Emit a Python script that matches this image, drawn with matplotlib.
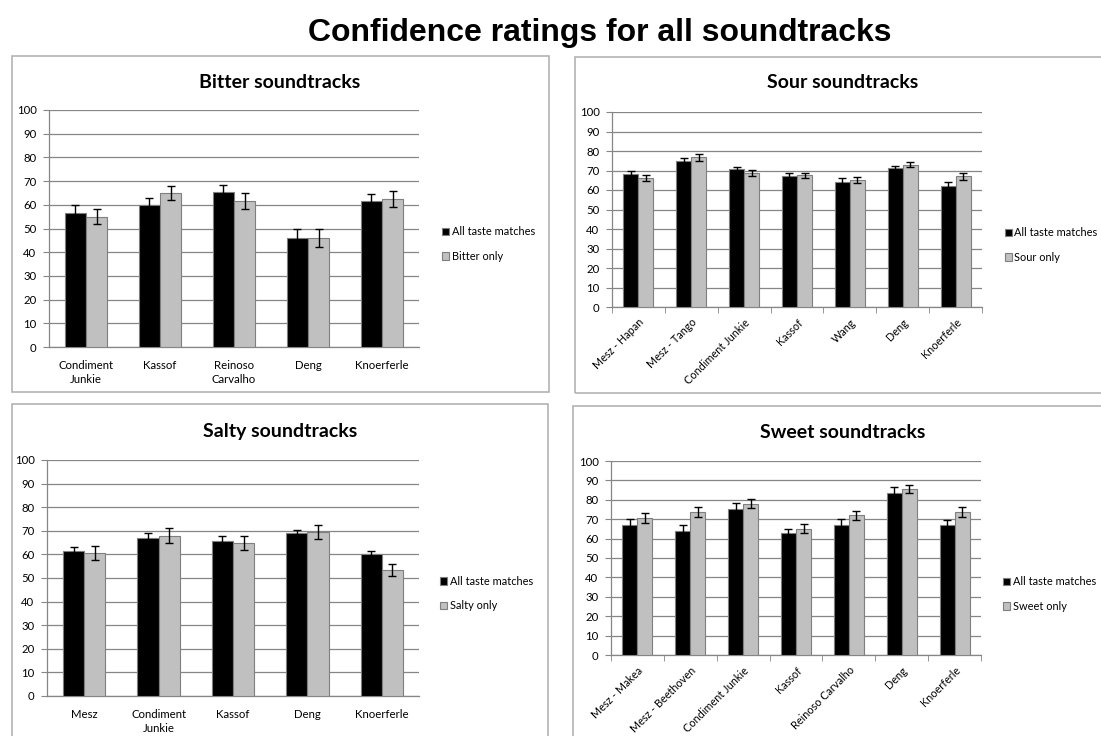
import matplotlib
matplotlib.use("Agg")
import numpy as np
import matplotlib.pyplot as plt
from matplotlib.patches import Rectangle

W, H = 1101, 736

# ---- data ----
bitter_cats = ["Condiment\nJunkie", "Kassof", "Reinoso\nCarvalho", "Deng", "Knoerferle"]
bitter_all = [56.5, 60.0, 65.5, 46.0, 61.5]
bitter_all_err = [3.5, 3.0, 3.0, 3.7, 3.1]
bitter_only = [55.0, 65.0, 61.5, 46.0, 62.5]
bitter_only_err = [3.3, 3.0, 3.4, 3.6, 3.5]

sour_cats = ["Mesz - Hapan", "Mesz - Tango", "Condiment Junkie", "Kassof", "Wang", "Deng", "Knoerferle"]
sour_all = [68.3, 75.0, 70.6, 67.0, 64.0, 71.2, 62.2]
sour_all_err = [1.7, 1.2, 1.3, 1.7, 1.9, 1.2, 1.7]
sour_only = [66.3, 76.7, 68.7, 67.5, 65.2, 73.0, 67.0]
sour_only_err = [1.5, 1.9, 1.4, 1.3, 1.5, 1.3, 1.7]

salty_cats = ["Mesz", "Condiment\nJunkie", "Kassof", "Deng", "Knoerferle"]
salty_all = [61.5, 67.0, 65.5, 69.0, 60.0]
salty_all_err = [1.7, 2.1, 2.1, 1.4, 1.5]
salty_only = [60.5, 68.0, 65.0, 69.5, 53.5]
salty_only_err = [3.0, 3.0, 3.0, 3.0, 2.6]

sweet_cats = ["Mesz - Makea", "Mesz - Beethoven", "Condiment Junkie", "Kassof",
              "Reinoso Carvalho", "Deng", "Knoerferle"]
sweet_all = [67.0, 64.0, 75.5, 62.8, 67.0, 83.5, 67.0]
sweet_all_err = [3.0, 3.1, 3.1, 2.4, 3.0, 3.1, 2.7]
sweet_only = [70.6, 73.7, 78.0, 65.2, 72.0, 85.5, 73.7]
sweet_only_err = [2.4, 2.4, 2.3, 2.2, 2.4, 2.2, 2.4]

GRID = "#868686"
EDGE = "#7f7f7f"
LIGHT = "#c0c0c0"
FONT = ["Lato", "DejaVu Sans"]
FS = 8.2

fig = plt.figure(figsize=(W / 100, H / 100), dpi=100)


def px_rect(l, t, r, b):
    return [l / W, 1 - b / H, (r - l) / W, (b - t) / H]


def frame(l, t, r, b):
    fig.add_artist(Rectangle((l / W, 1 - b / H), (r - l) / W, (b - t) / H,
                             transform=fig.transFigure, fill=False,
                             edgecolor="#b3b3b3", lw=1.2))


def panel(rect, cats, a, ae, o, oe, only_label, title, title_xy, leg_xy, rotated):
    ax = fig.add_axes(px_rect(*rect))
    x = np.arange(len(cats))
    w = 0.285
    ax.bar(x - w / 2, a, w, color="black", edgecolor=EDGE, lw=0.8,
           label="All taste matches", zorder=3)
    ax.bar(x + w / 2, o, w, color=LIGHT, edgecolor=EDGE, lw=0.8,
           label=only_label, zorder=3)
    ax.errorbar(x - w / 2, a, yerr=ae, fmt="none", ecolor="black",
                elinewidth=1, capsize=3, capthick=1, zorder=4)
    ax.errorbar(x + w / 2, o, yerr=oe, fmt="none", ecolor="black",
                elinewidth=1, capsize=3, capthick=1, zorder=4)
    ax.set_xlim(-0.5, len(cats) - 0.5)
    ax.set_ylim(0, 100)
    ax.set_yticks(range(0, 101, 10))
    ax.yaxis.grid(True, color=GRID, lw=0.9, zorder=0)
    for s in ("top", "right"):
        ax.spines[s].set_visible(False)
    for s in ("left", "bottom"):
        ax.spines[s].set_color(GRID)
        ax.spines[s].set_linewidth(0.9)
    ax.tick_params(axis="y", length=4, color=GRID, labelsize=FS, pad=5)
    ax.set_xticks(x)
    for lab in ax.get_yticklabels():
        lab.set_family(FONT)
    if rotated:
        ax.set_xticks(np.arange(-0.5, len(cats)), minor=True)
        ax.tick_params(axis="x", which="minor", length=4, color=GRID)
        ax.tick_params(axis="x", which="major", length=0, pad=7)
        ax.set_xticklabels(cats, rotation=45, ha="right", va="top",
                           rotation_mode="anchor", fontsize=7.8, family=FONT)
    else:
        ax.tick_params(axis="x", length=0, pad=9)
        ax.set_xticklabels(cats, fontsize=FS, family=FONT, linespacing=1.4)
    ax.legend(loc="center left", bbox_to_anchor=leg_xy, frameon=False,
              prop={"family": FONT, "size": 7.9},
              handlelength=0.65, handleheight=0.65, handletextpad=0.2,
              labelspacing=1.25, borderpad=0, borderaxespad=0)
    fig.text(title_xy[0] / W, 1 - title_xy[1] / H, title, ha="center", va="center",
             fontsize=14, fontweight="bold", family=FONT)
    return ax


frame(12, 56, 549, 392)
frame(575, 57, 1110, 393)
frame(12, 404, 548, 745)
frame(573, 406, 1110, 745)

panel((49, 110, 419, 347), bitter_cats, bitter_all, bitter_all_err,
      bitter_only, bitter_only_err, "Bitter only", "Bitter soundtracks",
      (280, 82), (1.063, 0.435), False)
panel((612, 112, 982, 307), sour_cats, sour_all, sour_all_err,
      sour_only, sour_only_err, "Sour only", "Sour soundtracks",
      (843, 83), (1.062, 0.318), True)
panel((47, 460, 419, 696), salty_cats, salty_all, salty_all_err,
      salty_only, salty_only_err, "Salty only", "Salty soundtracks",
      (280, 431), (1.057, 0.434), False)
panel((611, 461, 981, 655), sweet_cats, sweet_all, sweet_all_err,
      sweet_only, sweet_only_err, "Sweet only", "Sweet soundtracks",
      (843, 433), (1.060, 0.314), True)

fig.text(600 / W, 1 - 41 / H, "Confidence ratings for all soundtracks",
         ha="center", va="baseline", fontsize=23, fontweight="bold",
         family=["Liberation Sans", "DejaVu Sans"])

fig.savefig("out.png", dpi=100)
